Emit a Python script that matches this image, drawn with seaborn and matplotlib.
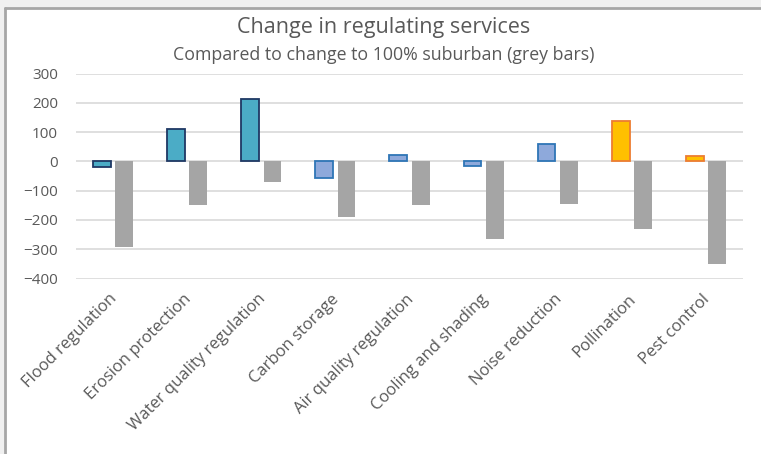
import matplotlib
matplotlib.use("Agg")
import matplotlib.pyplot as plt
from matplotlib.lines import Line2D
from matplotlib.patches import Rectangle
from matplotlib.transforms import ScaledTranslation
import seaborn as sns
import pandas as pd

# Data: change in each regulating service for the scenario, and for a switch to 100% suburban
categories = [
    "Flood regulation", "Erosion protection", "Water quality regulation",
    "Carbon storage", "Air quality regulation", "Cooling and shading",
    "Noise reduction", "Pollination", "Pest control",
]
scenario_change = [-18, 112, 214, -57, 22, -15, 59, 139, 20]
suburban_change = [-294, -148, -69, -191, -148, -266, -145, -230, -352]

# Per-service bar styling for the scenario series
scenario_fill = ["#4BACC6"] * 3 + ["#8EA9DB"] * 4 + ["#FFC000"] * 2
scenario_edge = ["#1F3864"] * 3 + ["#2E75B6"] * 4 + ["#ED7D31"] * 2
suburban_fill = "#A5A5A5"

df = pd.DataFrame({
    "category": categories * 2,
    "value": scenario_change + suburban_change,
    "series": ["scenario"] * len(categories) + ["suburban"] * len(categories),
})

sns.set_style("white")
plt.rcParams["font.family"] = ["Open Sans", "DejaVu Sans"]
text_color = "#595959"

W, H = 761, 454
fig = plt.figure(figsize=(W / 100, H / 100), dpi=100)
fig.patch.set_facecolor("#F0F0F0")

# White chart panel with a grey frame on top and left
fig.add_artist(Rectangle((5 / W, 0), 1, 1 - 8 / H, transform=fig.transFigure,
                         facecolor="white", edgecolor="none", zorder=0))
fig.add_artist(Line2D([5 / W, 1], [1 - 8 / H, 1 - 8 / H], transform=fig.transFigure,
                      color="#A6A6A6", lw=2, zorder=1))
fig.add_artist(Line2D([5 / W, 5 / W], [0, 1 - 8 / H], transform=fig.transFigure,
                      color="#A6A6A6", lw=2, zorder=1))

left, right = 76 / W, 743 / W
top, bottom = 1 - 73.5 / H, 1 - 278.5 / H
ax = fig.add_axes([left, bottom, right - left, top - bottom])
ax.set_facecolor("none")

sns.barplot(data=df, x="category", y="value", hue="series", order=categories,
            hue_order=["scenario", "suburban"], width=0.6, gap=0.2, dodge=True,
            legend=False, ax=ax, zorder=3)

for bar, fc, ec in zip(ax.containers[0], scenario_fill, scenario_edge):
    bar.set_facecolor(fc)
    bar.set_edgecolor(ec)
    bar.set_linewidth(1.3)
for bar in ax.containers[1]:
    bar.set_facecolor(suburban_fill)
    bar.set_edgecolor("none")
    bar.set_linewidth(0)

ax.set_xlim(-0.5, len(categories) - 0.5)
ax.set_ylim(-400, 300)
ax.set_yticks(range(-400, 301, 100))
ax.yaxis.grid(True, color="#D9D9D9", lw=1.2, zorder=0)
ax.set_axisbelow(True)
for s in ax.spines.values():
    s.set_visible(False)
ax.set_xlabel("")
ax.set_ylabel("")
ax.tick_params(axis="both", length=0, colors=text_color, labelsize=11)
ax.tick_params(axis="y", pad=13)
ax.tick_params(axis="x", pad=9)
shift = ScaledTranslation(-4 / 100, 0, fig.dpi_scale_trans)
for lab in ax.get_xticklabels():
    lab.set_rotation(45)
    lab.set_ha("right")
    lab.set_rotation_mode("anchor")
    lab.set_fontsize(12)
    lab.set_transform(lab.get_transform() + shift)

fig.text(384 / W, 1 - 28 / H, "Change in regulating services", ha="center", va="center",
         fontsize=15.5, color=text_color)
fig.text(384 / W, 1 - 55 / H, "Compared to change to 100% suburban (grey bars)",
         ha="center", va="center", fontsize=12.8, color=text_color)

fig.savefig("out.png", dpi=100, facecolor=fig.get_facecolor())
